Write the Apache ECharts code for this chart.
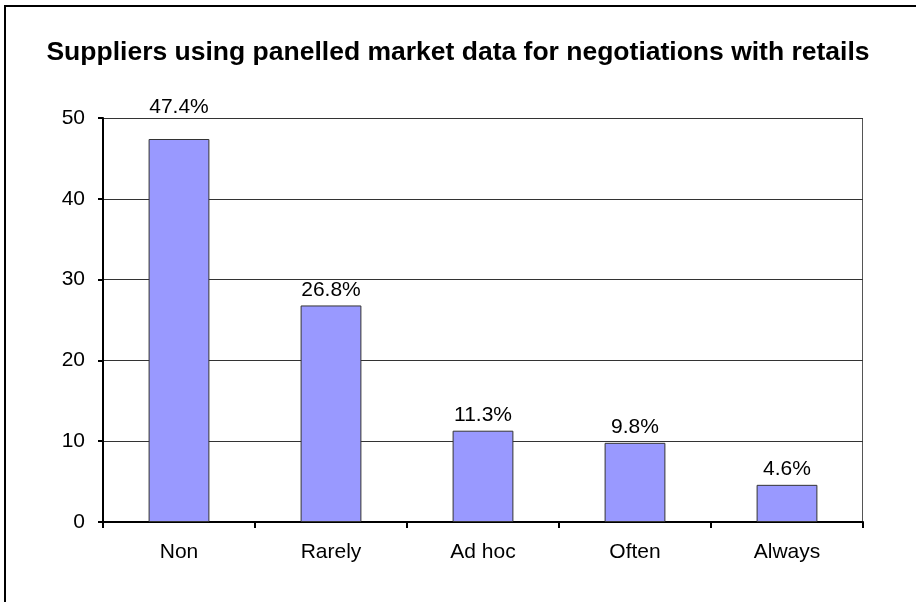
<!DOCTYPE html>
<html>
<head>
<meta charset="utf-8">
<script src="https://cdn.jsdelivr.net/npm/echarts@6/dist/echarts.min.js"></script>
<style>
  html, body { margin: 0; padding: 0; background: #fff; }
  #chart { width: 916px; height: 602px; }
</style>
</head>
<body>
<div id="chart"></div>
<script>
// Share of suppliers by how often they use panelled market data
const categories = ['Non', 'Rarely', 'Ad hoc', 'Often', 'Always'];
const shares = [47.4, 26.8, 11.3, 9.8, 4.6];
const yTicks = { min: 0, max: 50, interval: 10 };
const chartTitle = 'Suppliers using panelled market data for negotiations with retails';

const FONT = 'Arial, "Liberation Sans", sans-serif';
const chart = echarts.init(document.getElementById('chart'), null, { renderer: 'canvas' });

chart.setOption({
  animation: false,
  backgroundColor: '#ffffff',
  title: {
    text: chartTitle,
    left: 'center',
    top: 39,
    padding: 0,
    textStyle: { fontFamily: FONT, fontWeight: 'bold', fontSize: 26.5, color: '#000' }
  },
  graphic: [
    {
      // outer frame of the chart object
      type: 'rect',
      shape: { x: 5, y: 6, width: 1000, height: 1000 },
      style: { fill: 'none', stroke: '#000', lineWidth: 2 },
      silent: true
    },
    {
      // plot-area border (right side)
      type: 'line',
      shape: { x1: 862.5, y1: 118, x2: 862.5, y2: 522 },
      style: { stroke: '#555', lineWidth: 1 },
      silent: true
    }
  ],
  grid: { left: 103, right: 53, top: 118, bottom: 80, containLabel: false },
  xAxis: {
    type: 'category',
    data: categories,
    boundaryGap: true,
    axisLine: { show: true, lineStyle: { color: '#000', width: 2 } },
    axisTick: { show: true, alignWithLabel: false, length: 6, lineStyle: { color: '#000', width: 2 } },
    axisLabel: { fontFamily: FONT, fontSize: 21, color: '#000', margin: 20 },
    splitLine: { show: false }
  },
  yAxis: {
    type: 'value',
    min: yTicks.min,
    max: yTicks.max,
    interval: yTicks.interval,
    axisLine: { show: true, lineStyle: { color: '#000', width: 2 } },
    axisTick: { show: true, length: 5, lineStyle: { color: '#000', width: 2 } },
    axisLabel: { fontFamily: FONT, fontSize: 21, color: '#000', margin: 18 },
    splitLine: { show: true, lineStyle: { color: '#333', width: 1 } }
  },
  series: [{
    type: 'bar',
    barWidth: '40%',
    data: shares.map((v, i) => i === 0 ? { value: v, label: { distance: 21 } } : v),
    itemStyle: { color: '#9999FF', borderColor: '#333', borderWidth: 1 },
    label: {
      show: true,
      position: 'top',
      distance: 5,
      formatter: p => p.value + '%',
      fontFamily: FONT,
      fontSize: 21,
      color: '#000'
    }
  }]
});
</script>
</body>
</html>
